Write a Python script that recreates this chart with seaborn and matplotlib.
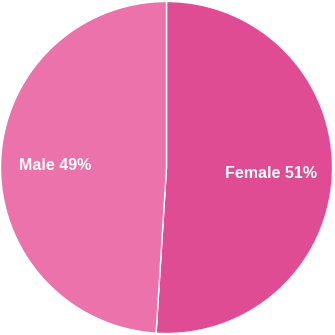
import matplotlib
matplotlib.use("Agg")
import matplotlib.pyplot as plt
import seaborn as sns

sns.set_theme(style="white")
plt.rcParams['font.family'] = ['Liberation Sans', 'DejaVu Sans']

categories = ["Female", "Male"]
values = [51, 49]
colors = ["#DF4C94", "#EC72AC"]

fig = plt.figure(figsize=(3.35, 3.35), dpi=100)
ax = fig.add_axes([0.0, 0.0, 1.0, 1.0])
labels = [f"{c} {v}%" for c, v in zip(categories, values)]
wedges, texts = ax.pie(values, colors=colors, startangle=90, counterclock=False,
                       labels=labels, labeldistance=0.63,
                       wedgeprops=dict(edgecolor="white", linewidth=1),
                       textprops=dict(color="white", fontsize=11.5, fontweight="bold"))
for t in texts:
    t.set_horizontalalignment("center")
    t.set_verticalalignment("center")
# fine placement of labels
x0, y0 = texts[1].get_position()
texts[1].set_position((x0 - 0.04, y0 - 0.01))
x1, y1 = texts[0].get_position()
texts[0].set_position((x1, y1 - 0.015))
ax.set_xlim(-1.003, 1.015)
ax.set_ylim(-1.009, 1.009)
ax.set_aspect("equal")
fig.savefig("out.png", dpi=100, facecolor="white")
